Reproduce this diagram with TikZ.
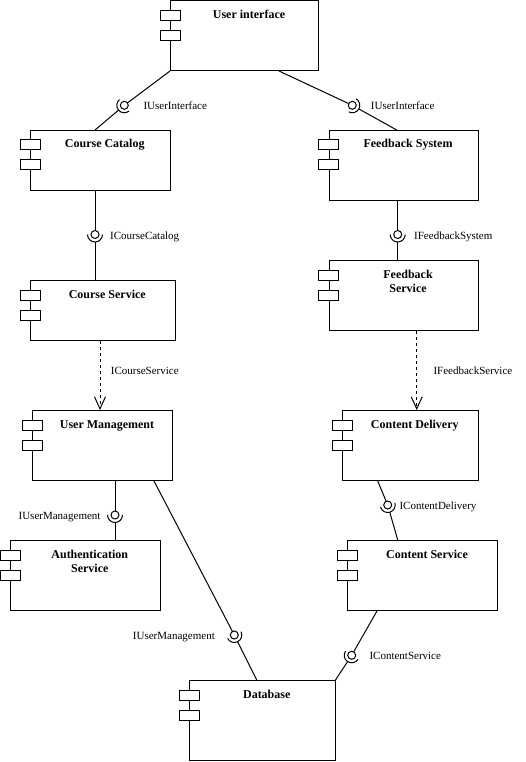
\documentclass[tikz,border=0pt]{standalone}
\usepackage{fontspec}
\setmainfont{Liberation Serif}
\usetikzlibrary{calc,arrows.meta}
\tikzset{
  comp/.style={draw, line width=1pt, fill=white, inner sep=0pt, anchor=north west},
  port/.style={draw, line width=1pt, fill=white},
  ttl/.style={font=\bfseries\fontsize{12pt}{14.4pt}\selectfont, inner sep=0pt, anchor=base},
  lbl/.style={font=\fontsize{11pt}{13pt}\selectfont, inner sep=0pt},
  wire/.style={line width=1pt},
  dep/.style={line width=1pt, dash pattern=on 3pt off 3pt, -{Straight Barb[length=12pt,width=11pt,line width=1pt]}},
}
\newcommand\mycomp[6]{%
  \node[comp, minimum width={(#4-#2)*1pt}, minimum height={(#5-#3)*1pt}] (#1) at (#2,-#3) {};
  \draw[port] ($(#1.north west)+(-10,-10)$) rectangle ++(20,-10);
  \draw[port] ($(#1.north west)+(-10,-30)$) rectangle ++(20,-10);
  \node[ttl] (#1t) at ($(#1.north)+(4.5,-18)$) {#6};
}
\newcommand\iface[3]{%
  \draw[wire, shorten >=4pt] (#1) -- (#2);
  \draw[wire] (#2) circle[radius=4pt];
  \draw[wire] let \p1=($(#3)-(#2)$), \n1={atan2(\y1,\x1)} in
    ($(#2)+(\n1-90:7.5pt)$) arc[start angle=\n1-90, delta angle=180, radius=7.5pt];
  \draw[wire, shorten <=7.5pt] (#2) -- (#3);
}
\begin{document}
\begin{tikzpicture}[x=1pt,y=1pt]
\useasboundingbox (0,0) rectangle (526,-762);
\fill[white] (0,0) rectangle (526,-762);

\mycomp{ui}{170}{0.5}{318}{70}{User interface}
\mycomp{cc}{30}{130}{169.5}{190}{Course Catalog}
\mycomp{fs}{328.5}{130}{477.5}{200}{Feedback System}
\mycomp{cs}{30}{280}{174.5}{340}{Course Service}
\mycomp{fsv}{328.5}{260}{477.5}{330}{\begin{tabular}[t]{@{}c@{}}Feedback\\Service\end{tabular}}
\mycomp{um}{32}{410}{172}{480}{User Management}
\mycomp{cd}{342}{410}{477.5}{480}{Content Delivery}
\mycomp{au}{10}{540}{159.5}{610}{\begin{tabular}[t]{@{}c@{}}Authentication\\Service\end{tabular}}
\mycomp{csv}{347}{540}{497}{610}{Content Service}
\mycomp{db}{189}{680}{334.5}{760}{Database}

% connector end points
\coordinate (e1a) at (ui.south west);
\coordinate (b1) at (124.3,-105.3);
\coordinate (e1b) at ($(cc.north west)+(65,0)$);
\coordinate (e2a) at ($(ui.south west)+(109,0)$);
\coordinate (b2) at (352.3,-105.3);
\coordinate (e2b) at ($(fs.north west)+(68.2,0)$);
\coordinate (e3a) at ($(cc.south west)+(65,0)$);
\coordinate (b3) at (95,-234.5);
\coordinate (e3b) at ($(cs.north west)+(65,0)$);
\coordinate (e4a) at ($(fs.south west)+(69.2,0)$);
\coordinate (b4) at (397.7,-234.5);
\coordinate (e4b) at ($(fsv.north west)+(69.2,0)$);
\coordinate (e5a) at ($(um.south west)+(83,0)$);
\coordinate (b5) at (115,-515);
\coordinate (e5b) at ($(au.north west)+(105,0)$);
\coordinate (e6a) at ($(um.south west)+(122,0)$);
\coordinate (b6) at (234.3,-635);
\coordinate (e6b) at ($(db.north west)+(67.7,0)$);
\coordinate (e7a) at ($(cd.south west)+(35.7,0)$);
\coordinate (b7) at (387.7,-505);
\coordinate (e7b) at ($(csv.north west)+(50.7,0)$);
\coordinate (e8a) at ($(csv.south west)+(30,0)$);
\coordinate (b8) at (351.7,-655.3);
\coordinate (e8b) at (db.north east);

\iface{e1a}{b1}{e1b}
\iface{e2a}{b2}{e2b}
\iface{e3a}{b3}{e3b}
\iface{e4a}{b4}{e4b}
\iface{e5a}{b5}{e5b}
\iface{e6a}{b6}{e6b}
\iface{e7a}{b7}{e7b}
\iface{e8a}{b8}{e8b}

% dependencies
\coordinate (d1a) at ($(cs.south west)+(70,0)$);
\coordinate (d1b) at (d1a |- um.north);
\draw[dep] (d1a) -- (d1b);
\coordinate (d2a) at ($(fsv.south west)+(88.2,0)$);
\coordinate (d2b) at (d2a |- cd.north);
\draw[dep] (d2a) -- (d2b);

% labels
\node[lbl, anchor=base west] (l1) at (143.3,-109.5) {IUserInterface};
\node[lbl, anchor=base west] (l2) at (370.7,-109.5) {IUserInterface};
\node[lbl, anchor=base west] (l3) at (110,-239) {ICourseCatalog};
\node[lbl, anchor=base west] (l4) at (414,-239) {IFeedbackSystem};
\node[lbl, anchor=base west] (l9) at (110.7,-374.5) {ICourseService};
\node[lbl, anchor=base west] (l10) at (433.3,-374.5) {IFeedbackService};
\node[lbl, anchor=base east] (l5) at (100.7,-519.5) {IUserManagement};
\node[lbl, anchor=base west] (l7) at (399.3,-509.5) {IContentDelivery};
\node[lbl, anchor=base east] (l6) at (215,-639.5) {IUserManagement};
\node[lbl, anchor=base west] (l8) at (369.3,-659.5) {IContentService};
\end{tikzpicture}
\end{document}
